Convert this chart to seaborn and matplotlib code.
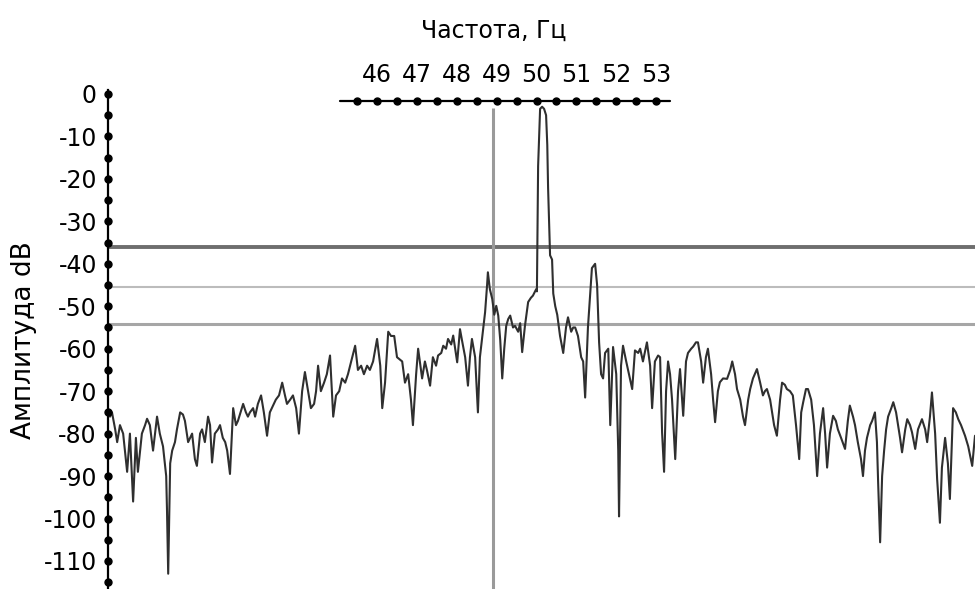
import numpy as np
import pandas as pd
import matplotlib
matplotlib.use("Agg")
import matplotlib.pyplot as plt
import seaborn as sns

# спектр, значения: частота (Гц) и амплитуда (dB)
freq = [
    39.30, 39.35, 39.43, 39.48, 39.55, 39.63, 39.73, 39.80, 39.88, 39.95,
    40.00, 40.10, 40.18, 40.23, 40.30, 40.38, 40.48, 40.55, 40.63, 40.71,
    40.73, 40.76, 40.81, 40.86, 40.93, 40.98, 41.06, 41.13, 41.18, 41.26,
    41.36, 41.43, 41.48, 41.56, 41.61, 41.68, 41.76, 41.81, 41.86, 41.93,
    42.01, 42.06, 42.13, 42.19, 42.24, 42.31, 42.39, 42.46, 42.51, 42.59,
    42.64, 42.71, 42.76, 42.81, 42.89, 42.94, 43.01, 43.09, 43.16, 43.24,
    43.31, 43.39, 43.46, 43.54, 43.62, 43.69, 43.74, 43.82, 43.89, 43.97,
    44.04, 44.12, 44.19, 44.27, 44.34, 44.42, 44.47, 44.52, 44.59, 44.67,
    44.74, 44.82, 44.90, 44.97, 45.05, 45.12, 45.20, 45.27, 45.35, 45.45,
    45.52, 45.60, 45.67, 45.75, 45.82, 45.90, 46.00, 46.08, 46.13, 46.20,
    46.28, 46.35, 46.43, 46.50, 46.63, 46.70, 46.78, 46.85, 46.90, 46.98,
    47.03, 47.13, 47.20, 47.25, 47.33, 47.40, 47.48, 47.53, 47.61, 47.66,
    47.73, 47.78, 47.86, 47.91, 47.96, 48.01, 48.08, 48.13, 48.21, 48.28,
    48.33, 48.38, 48.46, 48.53, 48.58, 48.63, 48.71, 48.76, 48.78, 48.83,
    48.89, 48.94, 48.99, 49.04, 49.09, 49.14, 49.19, 49.24, 49.29, 49.34,
    49.41, 49.46, 49.54, 49.59, 49.64, 49.71, 49.79, 49.86, 49.91, 49.99,
    50.01, 50.04, 50.09, 50.14, 50.19, 50.24, 50.27, 50.29, 50.34, 50.39,
    50.42, 50.47, 50.52, 50.59, 50.67, 50.74, 50.79, 50.87, 50.92, 50.97,
    51.04, 51.12, 51.17, 51.22, 51.29, 51.34, 51.39, 51.47, 51.52, 51.57,
    51.62, 51.67, 51.72, 51.80, 51.85, 51.92, 52.00, 52.05, 52.07, 52.12,
    52.17, 52.25, 52.32, 52.40, 52.47, 52.55, 52.60, 52.67, 52.77, 52.85,
    52.90, 52.97, 53.05, 53.10, 53.15, 53.20, 53.25, 53.30, 53.35, 53.40,
    53.48, 53.55, 53.60, 53.68, 53.75, 53.80, 53.88, 53.93, 54.00, 54.05,
    54.13, 54.18, 54.25, 54.30, 54.38, 54.43, 54.48, 54.55, 54.60, 54.68,
    54.78, 54.86, 54.91, 54.98, 55.03, 55.11, 55.18, 55.23, 55.31, 55.36,
    55.43, 55.53, 55.61, 55.68, 55.73, 55.78, 55.86, 55.96, 56.03, 56.11,
    56.16, 56.23, 56.28, 56.36, 56.43, 56.51, 56.59, 56.64, 56.69, 56.76,
    56.81, 56.89, 56.96, 57.04, 57.11, 57.19, 57.24, 57.29, 57.36, 57.44,
    57.51, 57.56, 57.64, 57.74, 57.81, 57.86, 57.94, 57.99, 58.06, 58.14,
    58.19, 58.24, 58.29, 58.37, 58.42, 58.49, 58.54, 58.57, 58.62, 58.67,
    58.72, 58.77, 58.82, 58.90, 58.95, 59.02, 59.07, 59.12, 59.17, 59.25,
    59.30, 59.37, 59.42, 59.50, 59.57, 59.67, 59.75, 59.80, 59.87, 59.92,
    60.00, 60.05, 60.12, 60.17, 60.25, 60.32, 60.37, 60.45, 60.52, 60.58,
    60.65, 60.75, 60.83, 60.93, 61.00,
]
amp = [
    -76, -75, -79, -82, -78, -80, -89, -80, -96, -81,
    -89, -80, -78, -76.5, -78, -84, -76, -80, -83, -90,
    -98, -113, -87, -84, -82, -79, -75, -75.5, -77, -82,
    -80, -86, -87.6, -80, -79, -82, -76, -78, -86.8, -80,
    -79, -78, -81, -82, -84, -89.5, -74, -78, -77, -74.5,
    -73, -75, -76, -75, -74, -76, -73, -71, -75, -80.5,
    -75, -73.4, -72, -71, -68, -71, -73, -72, -71, -74,
    -80, -70, -65.5, -70, -74, -73, -70, -64, -70, -68,
    -66, -61.6, -76, -71, -70, -67, -68, -66, -63, -59.3,
    -65, -64, -66, -64, -65, -63, -57.7, -64, -74, -68,
    -56, -57, -57, -62, -63, -68, -66, -72, -78, -66,
    -60, -67, -63, -65, -68.7, -62, -64, -61.6, -61, -59.3,
    -60, -57.7, -59, -56.9, -60, -63.2, -55.4, -58, -62, -68.7,
    -62, -57.7, -62, -75, -62, -58, -51.4, -45, -42, -46,
    -48.3, -52, -49.9, -52.2, -58, -67, -60, -54.6, -53, -52.2,
    -55, -54.6, -56, -54, -60.8, -54.6, -49, -48, -47.5, -46,
    -46.5, -17, -3.5, -3, -3.5, -5, -12, -22, -38, -39,
    -47, -50, -52, -57, -61, -55, -52.6, -56, -55, -55,
    -57, -62, -63, -71.5, -55, -48, -41, -40, -45, -58.5,
    -66, -67, -61, -60, -78, -59.6, -66, -84, -99.5, -64,
    -59.3, -63, -66, -69.5, -60.4, -61, -60, -63, -58.5, -64,
    -74, -63, -61.6, -62, -79.7, -89, -70, -63, -66, -72,
    -86, -70, -64.8, -75.8, -63, -61, -60, -59.5, -58.5, -58.5,
    -63, -68, -62, -60, -66, -72, -77.3, -70, -67.9, -67,
    -67.1, -65, -63, -66, -69.5, -72, -76, -78, -72, -69.5,
    -67, -64.8, -68, -71, -70, -69.5, -72, -78, -80.5, -72,
    -68, -68.5, -69.5, -70, -71, -78, -86, -75, -72.6, -69.5,
    -69.5, -72, -78, -90, -80, -74, -80, -88, -80, -75.8,
    -77, -79, -81, -83.6, -77, -73.4, -76, -78, -82, -86,
    -90, -84, -81, -78, -77, -75, -82, -91.5, -105.6, -90,
    -84, -79, -76, -74, -72.6, -75, -78, -81, -84.4, -79,
    -76.6, -78, -79.7, -83.6, -79, -76.6, -79, -82, -76, -70.3,
    -80, -90.7, -101, -88, -81, -87, -95.4, -74, -75, -76.6,
    -78, -80.5, -83, -87.6, -80.5,
]

# пороговые уровни и маркер частоты
levels = [-36.0, -45.5, -54.2]
level_colors = ['#6e6e6e', '#bcbcbc', '#a6a6a6']
level_widths = [2.8, 1.5, 2.2]
marker_freq = 48.91

# шкалы
y_dots = list(range(0, -120, -5))
y_labels = list(range(0, -120, -10))
top_dots = [45.5, 46, 46.5, 47, 47.5, 48, 48.5, 49, 49.5, 50, 50.5, 51, 51.5, 52, 52.5, 53]
top_labels = [46, 47, 48, 49, 50, 51, 52, 53]

sns.set_style("white")
plt.rcParams['font.family'] = ['DejaVu Sans']
plt.rcParams['text.color'] = 'black'
plt.rcParams['ytick.color'] = 'black'
plt.rcParams['ytick.labelcolor'] = 'black'

df = pd.DataFrame({'freq': freq, 'amp': amp})

fig = plt.figure(figsize=(9.75, 5.89), dpi=100)
ax = fig.add_axes([108 / 975, 0, 1 - 108 / 975, 499 / 589])

for lv, c, w in zip(levels, level_colors, level_widths):
    ax.axhline(lv, color=c, lw=w, zorder=1)
ax.vlines(marker_freq, -120, -3.3, color='#9a9a9a', lw=2.2, zorder=1)

sns.lineplot(data=df, x='freq', y='amp', ax=ax, color='#2f2f2f', lw=1.5,
             estimator=None, sort=False, zorder=2)

ax.set_xlim(39.25, 61.0)
ax.set_ylim(-116.6, 0.94)

for s in ['top', 'right', 'bottom']:
    ax.spines[s].set_visible(False)
ax.spines['left'].set_color('black')
ax.spines['left'].set_linewidth(1.6)

ax.set_xticks([])
ax.set_yticks(y_labels)
ax.set_yticklabels([str(v) for v in y_labels], fontsize=17, color='black')
ax.tick_params(axis='y', length=0, pad=8)
ax.set_xlabel('')
ax.set_ylabel('')

# точки на оси амплитуды
ax.plot(np.zeros(len(y_dots)), y_dots, 'o', color='black', ms=5,
        transform=ax.get_yaxis_transform(), clip_on=False, zorder=5)

# верхняя шкала частоты
ax.plot([45.07, 53.35], [-1.6, -1.6], color='black', lw=1.6, clip_on=False, zorder=5)
ax.plot(top_dots, [-1.6] * len(top_dots), 'o', color='black', ms=5, clip_on=False, zorder=5)
for f in top_labels:
    ax.text(f, 4.5, str(f), ha='center', va='center', fontsize=17, color='black')

fig.text(494 / 975, 1 - 31 / 589, 'Частота, Гц', ha='center', va='center',
         fontsize=17, color='black')
fig.text(24 / 975, 1 - 340 / 589, 'Амплитуда dB', ha='center', va='center',
         rotation=90, fontsize=19, color='black')

fig.savefig('out.png', dpi=100)
